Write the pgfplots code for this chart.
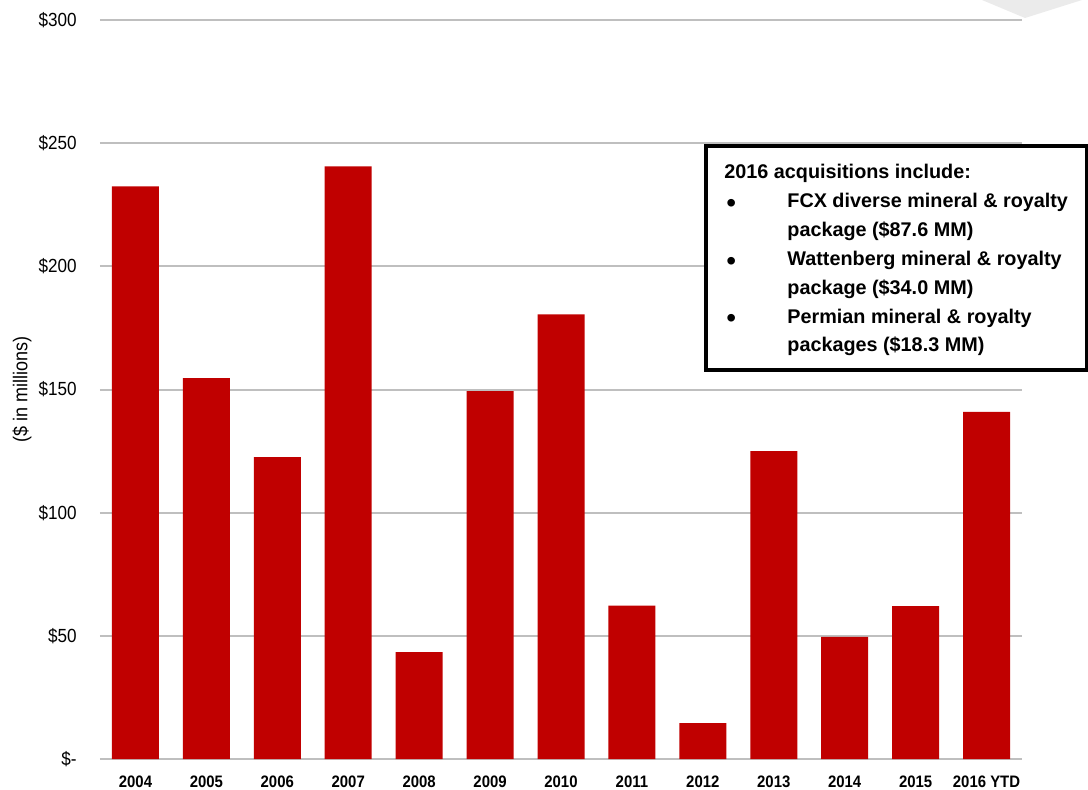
\documentclass[border=0pt]{standalone}
\usepackage{fontspec}
\setmainfont[FakeStretch=0.9]{Liberation Sans}
\newfontfamily\boxfont{Liberation Sans}
\usepackage{pgfplots}
\pgfplotsset{compat=1.18}
\definecolor{barred}{HTML}{C00000}
\definecolor{gridgray}{HTML}{BFBFBF}
\begin{document}
\begin{tikzpicture}
\useasboundingbox (-50pt,-15pt) rectangle (494pt,379.5pt);
% faint backdrop shape in the top right corner
\fill[black!8] (441pt,379.5pt) -- (462.5pt,370.5pt) -- (491pt,379.5pt) -- cycle;
\begin{axis}[
    scale only axis,
    width=461pt, height=369.5pt,
    ybar,
    bar width=23.5pt,
    xmin=-0.5, xmax=12.5,
    ymin=0, ymax=300,
    xtick=data,
    xticklabels={2004,2005,2006,2007,2008,2009,2010,2011,2012,2013,2014,2015,2016 YTD},
    ytick={0,50,100,150,200,250,300},
    yticklabels={\$-,\$50,\$100,\$150,\$200,\$250,\$300},
    ymajorgrids,
    major grid style={gridgray, line width=1pt},
    axis line style={draw=none},
    major tick length=0pt,
    tick style={draw=none},
    yticklabel style={anchor=east, inner sep=0pt, xshift=-11.5pt, font=\fontsize{9.5}{10}\selectfont},
    xticklabel style={anchor=base, inner sep=0pt, yshift=-14pt, font=\bfseries\fontsize{8.3}{9}\selectfont},
    ylabel={(\$ in millions)},
    ylabel style={font=\fontsize{10}{11}\selectfont},
    every axis y label/.style={at={(-39pt,185pt)}, rotate=90, anchor=center},
]
\addplot[fill=barred, draw=none] coordinates {
(0,232.5) (1,154.6) (2,122.5) (3,240.6) (4,43.4) (5,149.3) (6,180.5)
(7,62.3) (8,14.6) (9,125.0) (10,49.6) (11,62.1) (12,140.9)};
\end{axis}
\draw[line width=2pt, fill=white] (303pt,306.5pt) rectangle (493.5pt,194.5pt);
\begin{scope}[every node/.style={anchor=base west, inner sep=0pt, font=\boxfont\bfseries\fontsize{9.9}{12}\selectfont}]
\node at (312pt,290pt) {2016 acquisitions include:};
\node at (343.5pt,275.6pt) {FCX diverse mineral \& royalty};
\node at (343.5pt,261.2pt) {package (\$87.6 MM)};
\node at (343.5pt,246.8pt) {Wattenberg mineral \& royalty};
\node at (343.5pt,232.4pt) {package (\$34.0 MM)};
\node at (343.5pt,218pt) {Permian mineral \& royalty};
\node at (343.5pt,203.6pt) {packages (\$18.3 MM)};
\end{scope}
\begin{scope}[every node/.style={anchor=base west, inner sep=0pt, font=\boxfont\fontsize{14}{14}\selectfont}]
\node at (313pt,273.1pt) {\textbullet};
\node at (313pt,244.3pt) {\textbullet};
\node at (313pt,215.5pt) {\textbullet};
\end{scope}
\end{tikzpicture}
\end{document}
